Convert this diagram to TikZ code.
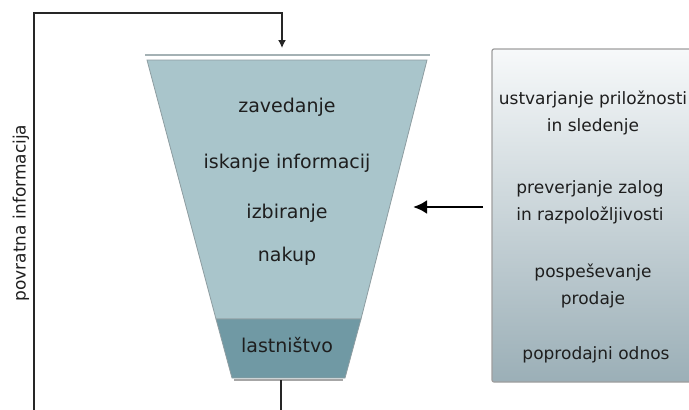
\documentclass[tikz,border=0pt]{standalone}
\usepackage{fontspec}
\setmainfont{DejaVu Sans}
\usepackage{xcolor}
\definecolor{FunnelBlue}{HTML}{A9C5CB}
\definecolor{FunnelDark}{HTML}{7099A4}
\definecolor{EdgeGray}{HTML}{8E9DA1}
\definecolor{BoxTop}{HTML}{F7F9FA}
\definecolor{BoxBottom}{HTML}{9BAFB7}
\definecolor{InkGray}{HTML}{1E1E1E}
\usepackage{tikz}
\usetikzlibrary{arrows.meta,positioning,calc}

\begin{document}
\begin{tikzpicture}[x=1pt,y=-1pt,>=Latex,
  stage/.style={text=InkGray,font=\fontsize{19}{23}\selectfont},
  task/.style={text=InkGray,align=center,font=\fontsize{17}{27}\selectfont},
  flow/.style={line width=1.4pt,draw=black!85}]
\useasboundingbox (0,0) rectangle (689,410);
\clip (0,0) rectangle (689,410);
% funnel
\draw[EdgeGray!80,line width=1.2pt] (145,55) -- (430,55);
\filldraw[fill=FunnelBlue,draw=EdgeGray,line width=0.8pt] (147,60) -- (427,60) -- (361,319) -- (216,319) -- cycle;
\filldraw[fill=FunnelDark,draw=EdgeGray,line width=0.8pt] (216,319) -- (361,319) -- (345,378) -- (232,378) -- cycle;
\draw[black!35,line width=1.5pt] (234,380) -- (343,380);
\node[stage] (aware) at (287,107) {zavedanje};
\node[stage] (search) at (287,163) {iskanje informacij};
\node[stage] (select) at (287,213) {izbiranje};
\node[stage] (buy) at (287,256) {nakup};
\node[stage] (own) at (287,345) {lastništvo};
% right box
\node[draw=black!38,line width=1.2pt,rounded corners=2pt,top color=BoxTop,bottom color=BoxBottom,minimum width=205pt,minimum height=333pt,inner sep=0pt] (box) at (594.5,215.5) {};
\node[task] (lead) at (593,113) {ustvarjanje priložnosti\\in sledenje};
\node[task] (stock) at (590,202) {preverjanje zalog\\in razpoložljivosti};
\node[task] (promo) at (593,286) {pospeševanje\\prodaje};
\node[task] (after) at (596,355) {poprodajni odnos};
% arrows
\coordinate (boxout) at (483,207);
\coordinate (funnelin) at (413,207);
\draw[line width=2.8pt,-{Latex[length=14pt,width=14pt]}] (boxout) -- (funnelin);
\coordinate (funnelbase) at (281,380);
\coordinate (fbout) at (281,412);
\coordinate (fbfoot) at (34,412);
\coordinate (fbin) at (282,48);
\draw[flow] (funnelbase) -- (fbout);
\draw[flow,-{Latex[length=8pt,width=8pt]}] (fbfoot) |- (282,13) -- (fbin);
\node[rotate=90,text=InkGray,font=\fontsize{17}{20}\selectfont] (feedback) at (21,213) {povratna informacija};
\end{tikzpicture}
\end{document}
